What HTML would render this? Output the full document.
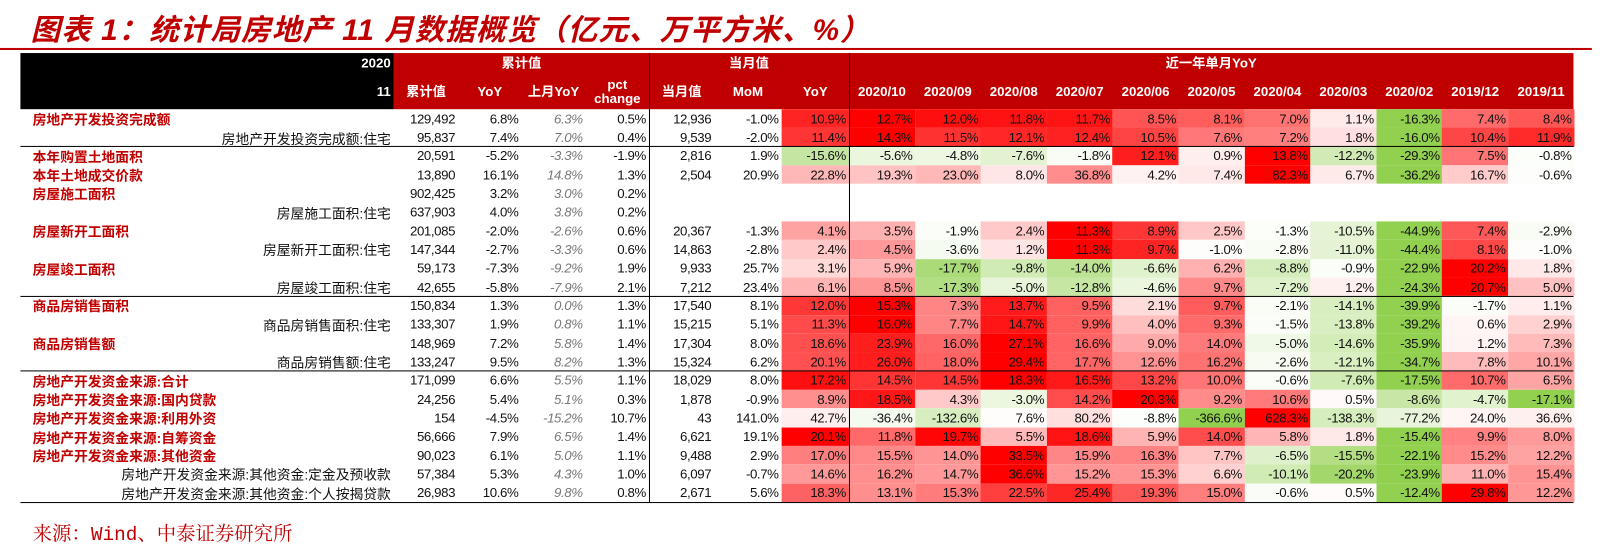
<!DOCTYPE html>
<html><head><meta charset="utf-8">
<style>
body{margin:0;width:1600px;height:547px;background:#fff;overflow:hidden;position:relative;font-family:"Liberation Sans","Noto Sans CJK SC",sans-serif;}
#wrap{position:absolute;left:0;top:0;width:1568px;height:536px;transform:scale(1.0204);transform-origin:0 0;}
.abs{position:absolute;}
#title{left:30px;top:6px;font-size:29px;font-weight:bold;font-style:italic;color:#C00000;font-family:"Liberation Sans","Noto Sans CJK SC",sans-serif;white-space:nowrap;letter-spacing:1px}
#title-rule{left:0;top:47px;width:1560px;height:2px;background:#C00000}
.hd{color:#fff;font-weight:bold;font-size:13px;display:flex;align-items:center;justify-content:center;text-align:center;line-height:14px}
.cell{font-size:13px;display:flex;align-items:center;justify-content:flex-end;padding-right:3px;box-sizing:border-box;color:#111;letter-spacing:-0.4px;white-space:nowrap}
.lab-main{color:#C00000;font-weight:bold;font-size:13.5px;display:flex;align-items:center;white-space:nowrap}
.lab-sub{color:#111;font-size:13.5px;display:flex;align-items:center;justify-content:flex-end;white-space:nowrap}
#source{left:32px;top:508px;font-size:19px;color:#C00000;font-family:"Liberation Mono","Noto Serif CJK SC",serif;white-space:nowrap}
</style></head>
<body>
<div id="wrap">
<div id="title" class="abs">图表 1：统计局房地产 11 月数据概览（亿元、万平方米、%）</div>
<div id="title-rule" class="abs"></div>
<div id="table" class="abs" style="left:0;top:0;width:1568px;height:536px"></div>
<div id="source" class="abs">来源：Wind、中泰证券研究所</div>
</div>
<script>
const monthLabels=["2020/10","2020/09","2020/08","2020/07","2020/06","2020/05","2020/04","2020/03","2020/02","2019/12","2019/11"];
const rowLabels=["房地产开发投资完成额","房地产开发投资完成额:住宅","本年购置土地面积","本年土地成交价款","房屋施工面积","房屋施工面积:住宅","房屋新开工面积","房屋新开工面积:住宅","房屋竣工面积","房屋竣工面积:住宅","商品房销售面积","商品房销售面积:住宅","商品房销售额","商品房销售额:住宅","房地产开发资金来源:合计","房地产开发资金来源:国内贷款","房地产开发资金来源:利用外资","房地产开发资金来源:自筹资金","房地产开发资金来源:其他资金","房地产开发资金来源:其他资金:定金及预收款","房地产开发资金来源:其他资金:个人按揭贷款"];
const rowIsMain=[1,0,1,1,1,0,1,0,1,0,1,0,1,0,1,1,1,1,1,0,0];
const cumValue=["129,492","95,837","20,591","13,890","902,425","637,903","201,085","147,344","59,173","42,655","150,834","133,307","148,969","133,247","171,099","24,256","154","56,666","90,023","57,384","26,983"];
const cumYoY=[6.8,7.4,-5.2,16.1,3.2,4.0,-2.0,-2.7,-7.3,-5.8,1.3,1.9,7.2,9.5,6.6,5.4,-4.5,7.9,6.1,5.3,10.6];
const prevYoY=[6.3,7.0,-3.3,14.8,3.0,3.8,-2.6,-3.3,-9.2,-7.9,0.0,0.8,5.8,8.2,5.5,5.1,-15.2,6.5,5.0,4.3,9.8];
const pctChange=[0.5,0.4,-1.9,1.3,0.2,0.2,0.6,0.6,1.9,2.1,1.3,1.1,1.4,1.3,1.1,0.3,10.7,1.4,1.1,1.0,0.8];
const monthValue=["12,936","9,539","2,816","2,504","","","20,367","14,863","9,933","7,212","17,540","15,215","17,304","15,324","18,029","1,878","43","6,621","9,488","6,097","2,671"];
const monthMoM=[-1.0,-2.0,1.9,20.9,null,null,-1.3,-2.8,25.7,23.4,8.1,5.1,8.0,6.2,8.0,-0.9,141.0,19.1,2.9,-0.7,5.6];
const monthYoY=[10.9,11.4,-15.6,22.8,null,null,4.1,2.4,3.1,6.1,12.0,11.3,18.6,20.1,17.2,8.9,42.7,20.1,17.0,14.6,18.3];
const recentYoY=[
[12.7,12.0,11.8,11.7,8.5,8.1,7.0,1.1,-16.3,7.4,8.4],
[14.3,11.5,12.1,12.4,10.5,7.6,7.2,1.8,-16.0,10.4,11.9],
[-5.6,-4.8,-7.6,-1.8,12.1,0.9,13.8,-12.2,-29.3,7.5,-0.8],
[19.3,23.0,8.0,36.8,4.2,7.4,82.3,6.7,-36.2,16.7,-0.6],
null,null,
[3.5,-1.9,2.4,11.3,8.9,2.5,-1.3,-10.5,-44.9,7.4,-2.9],
[4.5,-3.6,1.2,11.3,9.7,-1.0,-2.8,-11.0,-44.4,8.1,-1.0],
[5.9,-17.7,-9.8,-14.0,-6.6,6.2,-8.8,-0.9,-22.9,20.2,1.8],
[8.5,-17.3,-5.0,-12.8,-4.6,9.7,-7.2,1.2,-24.3,20.7,5.0],
[15.3,7.3,13.7,9.5,2.1,9.7,-2.1,-14.1,-39.9,-1.7,1.1],
[16.0,7.7,14.7,9.9,4.0,9.3,-1.5,-13.8,-39.2,0.6,2.9],
[23.9,16.0,27.1,16.6,9.0,14.0,-5.0,-14.6,-35.9,1.2,7.3],
[26.0,18.0,29.4,17.7,12.6,16.2,-2.6,-12.1,-34.7,7.8,10.1],
[14.5,14.5,18.3,16.5,13.2,10.0,-0.6,-7.6,-17.5,10.7,6.5],
[18.5,4.3,-3.0,14.2,20.3,9.2,10.6,0.5,-8.6,-4.7,-17.1],
[-36.4,-132.6,7.6,80.2,-8.8,-366.6,628.3,-138.3,-77.2,24.0,36.6],
[11.8,19.7,5.5,18.6,5.9,14.0,5.8,1.8,-15.4,9.9,8.0],
[15.5,14.0,33.5,15.9,16.3,7.7,-6.5,-15.5,-22.1,15.2,12.2],
[16.2,14.7,36.6,15.2,15.3,6.6,-10.1,-20.2,-23.9,11.0,15.4],
[13.1,15.3,22.5,25.4,19.3,15.0,-0.6,0.5,-12.4,29.8,12.2]];

const T=document.getElementById('table');
const colEdges=[386,449,511,574,636,700,766,832];
const mStart=832, mW=64.6;
const hdTop=52, hdMid=72, bodyTop=107, rowH=18.33;
function box(x,y,w,h,cls,txt,style){const d=document.createElement('div');d.className='abs '+(cls||'');d.style.left=x+'px';d.style.top=y+'px';d.style.width=w+'px';d.style.height=h+'px';if(style)d.style.cssText+=style;if(txt!=null)d.innerHTML=txt;T.appendChild(d);return d;}
function fmt(v){return v==null?'':v.toFixed(1)+'%';}
function heat(v,mx,mn){if(v>=0){const t=mx>0?v/mx:0;const g=Math.round(255*(1-t));return `rgb(255,${g},${g})`;}const t=mn<0?v/mn:0;return `rgb(${Math.round(255-109*t)},${Math.round(255-47*t)},${Math.round(255-175*t)})`;}

let e;
e=box(20,hdTop,366,55,'','',"background:#000");


e=box(386,hdTop,1156,55,'','',"background:#C00000");


e=box(20,hdTop,363,20,'hd','2020',"justify-content:flex-end");


e=box(20,hdMid,363,35,'hd','11',"justify-content:flex-end");


e=box(386,hdTop,250,20,'hd','累计值');


e=box(636,hdTop,196,20,'hd','当月值');


e=box(832,hdTop,710,20,'hd','近一年单月YoY');


const subHeads=['累计值','YoY','上月YoY','pct<br>change','当月值','MoM','YoY'];
subHeads.forEach((s,i)=>{const d=box(colEdges[i],hdMid,colEdges[i+1]-colEdges[i],35,'hd',s);

});
monthLabels.forEach((s,i)=>{const d=box(mStart+i*mW,hdMid,mW,35,'hd',s);

});

rowLabels.forEach((lab,r)=>{
  const y=bodyTop+r*rowH;
  let d;
  if(rowIsMain[r]) d=box(32,y,350,rowH,'lab-main',lab); else d=box(20,y,363,rowH,'lab-sub',lab);
  
  
  const vals=[cumValue[r],fmt(cumYoY[r]),fmt(prevYoY[r]),fmt(pctChange[r]),monthValue[r],fmt(monthMoM[r])];
  vals.forEach((v,i)=>{const c=box(colEdges[i],y,colEdges[i+1]-colEdges[i],rowH,'cell',v,i==2?"font-style:italic;color:#777":"");
  
  });
  const months=recentYoY[r];
  if(months){
    const all=[monthYoY[r]].concat(months);
    const mx=Math.max(...all), mn=Math.min(...all);
    const c=box(766,y,66,rowH,'cell',fmt(monthYoY[r]),"background:"+heat(monthYoY[r],mx,mn));
    
    
    months.forEach((v,i)=>{const m=box(mStart+i*mW,y,mW+0.5,rowH,'cell',fmt(v),"background:"+heat(v,mx,mn));
    
    });
  }
});
[2,10,14].forEach(k=>{const l=box(20,bodyTop+k*rowH-0.5,1522,1,'','',"background:#000");

});
e=box(20,bodyTop+21*rowH,1522,1,'','',"background:#000");


[636,832].forEach(x=>{const l=box(x,hdTop,1,bodyTop+21*rowH-hdTop,'','',"background:#000");

});
</script>
</body></html>
